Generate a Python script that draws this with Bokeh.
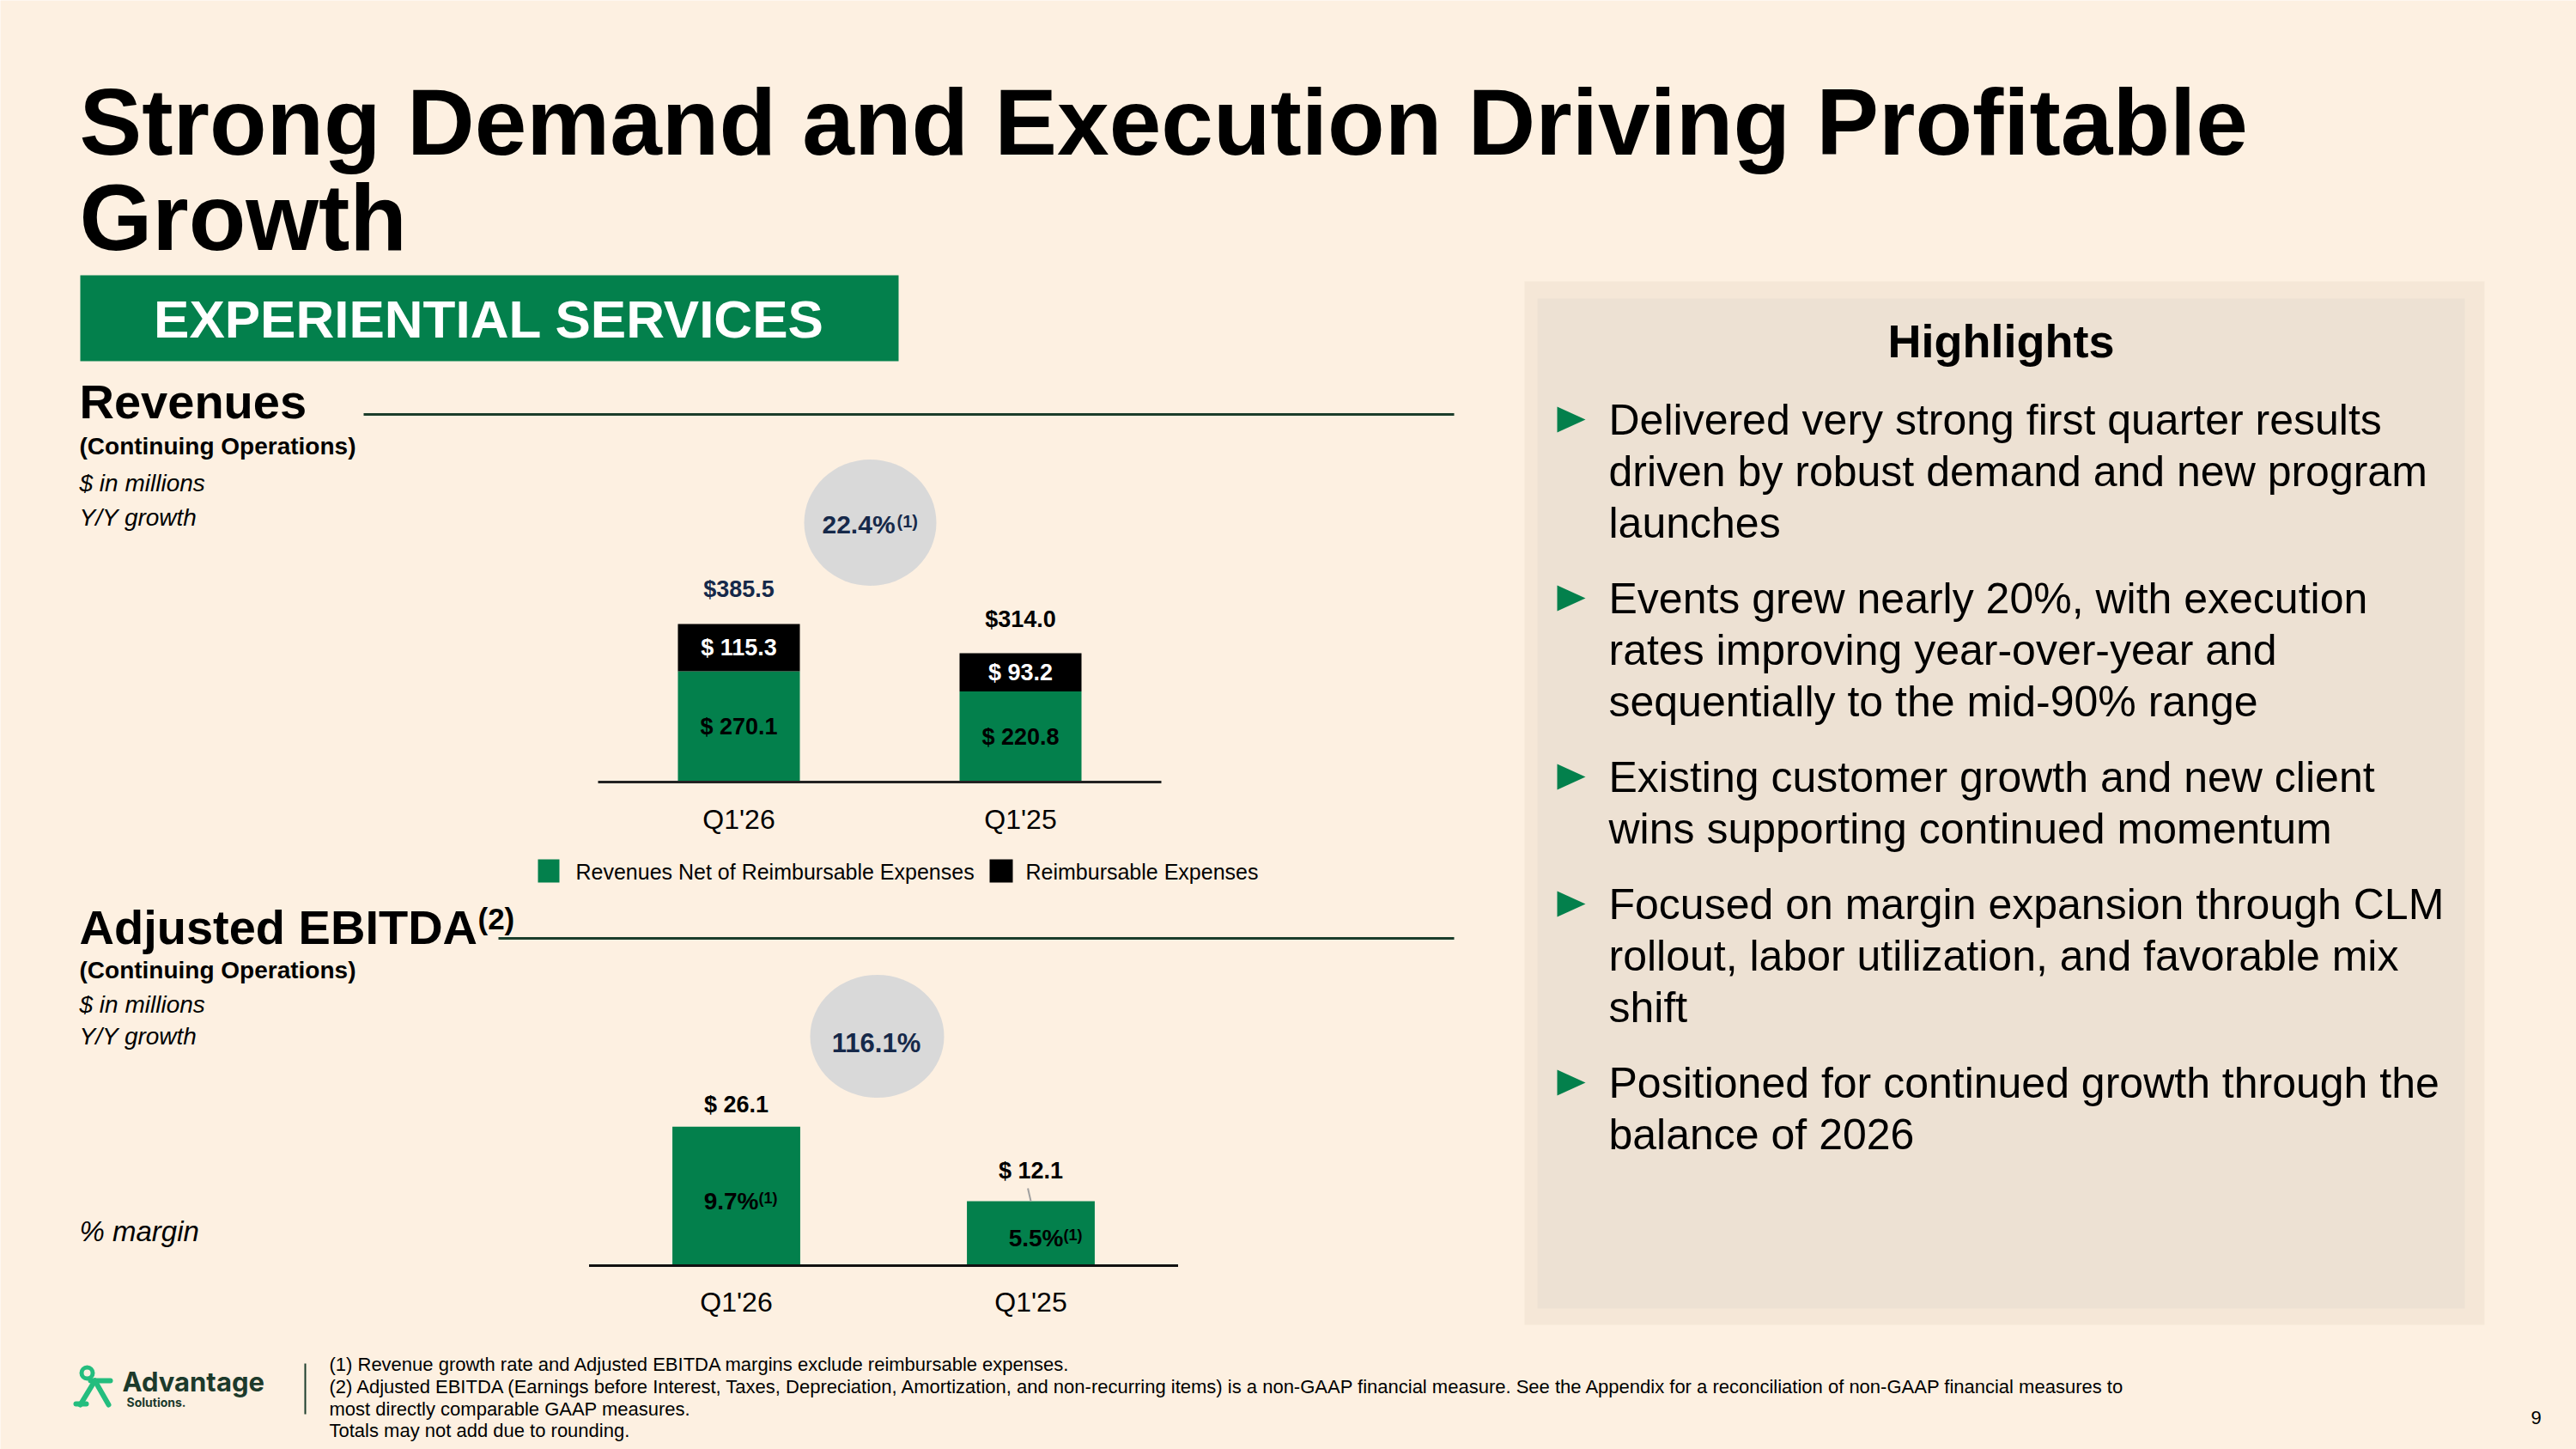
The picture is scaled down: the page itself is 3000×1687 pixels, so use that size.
from bokeh.plotting import figure
from bokeh.models import Range1d, ColumnDataSource
from bokeh.core.properties import value
from bokeh.embed import file_html
from bokeh.resources import INLINE

# ---------------- data ----------------
quarters = ["Q1'26", "Q1'25"]
rev_net = [270.1, 220.8]          # revenues net of reimbursable expenses
rev_reimb = [115.3, 93.2]         # reimbursable expenses
rev_total = [385.5, 314.0]        # reported totals
rev_growth = "22.4%"
ebitda = [26.1, 12.1]
ebitda_margin = ["9.7%", "5.5%"]
ebitda_growth = "116.1%"
legend_labels = ["Revenues Net of Reimbursable Expenses", "Reimbursable Expenses"]

highlights = [
    ["Delivered very strong first quarter results",
     "driven by robust demand and new program",
     "launches"],
    ["Events grew nearly 20%, with execution",
     "rates improving year-over-year and",
     "sequentially to the mid-90% range"],
    ["Existing customer growth and new client",
     "wins supporting continued momentum"],
    ["Focused on margin expansion through CLM",
     "rollout, labor utilization, and favorable mix",
     "shift"],
    ["Positioned for continued growth through the",
     "balance of 2026"],
]

footnotes = [
    "(1) Revenue growth rate and Adjusted EBITDA margins exclude reimbursable expenses.",
    "(2) Adjusted EBITDA (Earnings before Interest, Taxes, Depreciation, Amortization, and non-recurring items) "
    "is a non-GAAP financial measure. See the Appendix for a reconciliation of non-GAAP financial measures to",
    "most directly comparable GAAP measures.",
    "Totals may not add due to rounding.",
]

# ---------------- style ----------------
W, H = 3000, 1687
FONT = "Liberation Sans"
BG = "#fdf0e1"
GREEN = "#03804c"
NAVY = "#16294a"
RULE = "#1b3d2b"
PANEL_OUT = "#f5e7d7"
PANEL_IN = "#ede1d3"
BADGE = "#d9d9d9"
MINT = "#24bd7e"

p = figure(width=W, height=H, x_range=Range1d(0, W), y_range=Range1d(H, 0),
           output_backend="svg", toolbar_location=None,
           x_axis_location=None, y_axis_location=None,
           min_border=0, background_fill_color=BG, border_fill_color=BG,
           outline_line_color=None)
for g in p.grid:
    g.visible = False


def txt(x, y, s, size, color="#000000", style="normal", align="left",
        baseline="middle", font=FONT, **kw):
    xs = x if isinstance(x, list) else [x]
    ys = y if isinstance(y, list) else [y]
    ss = s if isinstance(s, list) else [s]
    return p.text(x=xs, y=ys, text=ss, text_font=value(font),
                  text_font_size=f"{size}px", text_font_style=style,
                  text_color=color, text_align=align, text_baseline=baseline, **kw)


# chart scales: category index -> horizontal position, value -> vertical position
def chart_ranges(first_px, step_px, base_px, px_per_unit):
    xr = Range1d(-first_px / step_px, (W - first_px) / step_px)
    yr = Range1d(-(H - base_px) / px_per_unit, base_px / px_per_unit)
    return xr, yr


REV_K = 0.4775
EB_K = 6.2
rev_xr, rev_yr = chart_ranges(860, 328, 910, REV_K)
eb_xr, eb_yr = chart_ranges(857, 343, 1473, EB_K)
p.extra_x_ranges = {"rev_x": rev_xr, "eb_x": eb_xr}
p.extra_y_ranges = {"rev_y": rev_yr, "eb_y": eb_yr}
REV = dict(x_range_name="rev_x", y_range_name="rev_y")
EB = dict(x_range_name="eb_x", y_range_name="eb_y")

# ---------------- title & section header ----------------
txt(92, 141, "Strong Demand and Execution Driving Profitable", 109, style="bold")
txt(92, 252, "Growth", 109, style="bold")

p.quad(left=[93], right=[1046], top=[320], bottom=[420], color=GREEN, line_color=None)
txt(569, 371, "EXPERIENTIAL SERVICES", 62, color="white", style="bold", align="center")

# ---------------- revenues ----------------
txt(92, 467, "Revenues", 56, style="bold")
p.segment(x0=[423], y0=[482], x1=[1693], y1=[482], line_color=RULE, line_width=3)
txt(92, 519, "(Continuing Operations)", 28, style="bold")
txt(92, 562, "$ in millions", 28, style="italic")
txt(92, 602, "Y/Y growth", 28, style="italic")

idx = list(range(len(quarters)))
rev_src = ColumnDataSource(dict(
    x=idx, net=rev_net, reimb=rev_reimb,
    stack_top=[n + r for n, r in zip(rev_net, rev_reimb)],
    total=rev_total,
    net_mid=[n / 2 for n in rev_net],
    reimb_mid=[n + r / 2 for n, r in zip(rev_net, rev_reimb)],
    total_y=[t + 40 / REV_K for t in rev_total],
    cat_y=[-43 / REV_K] * len(idx),
    net_lbl=[f"$ {v:.1f}" for v in rev_net],
    reimb_lbl=[f"$ {v:.1f}" for v in rev_reimb],
    total_lbl=[f"${v:.1f}" for v in rev_total],
    total_col=[NAVY, "#000000"],
    cat=quarters,
))
BAR_W = 0.433
p.vbar(x="x", bottom=0, top="net", width=BAR_W, color=GREEN, line_color=None,
       source=rev_src, **REV)
p.vbar(x="x", bottom="net", top="stack_top", width=BAR_W, color="#000000",
       line_color=None, source=rev_src, **REV)
p.segment(x0=[-0.5], y0=[0], x1=[1.5], y1=[0], line_color="#222222", line_width=3, **REV)

lbl = dict(text_font=value(FONT), text_font_size="27px", text_font_style="bold",
           text_align="center", text_baseline="middle", source=rev_src, **REV)
p.text(x="x", y="total_y", text="total_lbl", text_color="total_col", **lbl)
p.text(x="x", y="reimb_mid", text="reimb_lbl", text_color="white", **lbl)
p.text(x="x", y="net_mid", text="net_lbl", text_color="#000000", **lbl)
p.text(x="x", y="cat_y", text="cat", text_font=value(FONT), text_font_size="32px",
       text_align="center", text_baseline="middle", text_color="#000000",
       source=rev_src, **REV)

# growth badge
p.ellipse(x=[1013], y=[608], width=[154], height=[147], width_units="screen",
          height_units="screen", fill_color=BADGE, line_color=None)
txt(957, 610, rev_growth, 30, color=NAVY, style="bold")
txt(1044, 606, "(1)", 20, color=NAVY, style="bold")

# legend
p.quad(left=[626], right=[651], top=[1000], bottom=[1027], color=GREEN, line_color=None)
txt(670, 1014, legend_labels[0], 25)
p.quad(left=[1152], right=[1179], top=[1000], bottom=[1027], color="#000000", line_color=None)
txt(1194, 1014, legend_labels[1], 25)

# ---------------- adjusted EBITDA ----------------
txt(92, 1079, "Adjusted EBITDA", 56, style="bold")
txt(556, 1069, "(2)", 35, style="bold")
p.segment(x0=[580], y0=[1092], x1=[1693], y1=[1092], line_color=RULE, line_width=3)
txt(92, 1129, "(Continuing Operations)", 28, style="bold")
txt(92, 1169, "$ in millions", 28, style="italic")
txt(92, 1206, "Y/Y growth", 28, style="italic")
txt(92, 1433, "% margin", 33, style="italic")

label_gap = [26, 35]
eb_src = ColumnDataSource(dict(
    x=idx, v=ebitda,
    top_y=[v + g / EB_K for v, g in zip(ebitda, label_gap)],
    top_lbl=[f"$ {v:.1f}" for v in ebitda],
    m_y=[v / 2 - 6 / EB_K for v in ebitda],
    sup_y=[v / 2 - 2.5 / EB_K for v in ebitda],
    m_lbl=ebitda_margin,
    m_dx=[26, 38],
    cat_y=[-42 / EB_K] * len(idx),
    cat=quarters,
))
p.vbar(x="x", bottom=0, top="v", width=0.434, color=GREEN, line_color=None,
       source=eb_src, **EB)
p.segment(x0=[-0.5], y0=[0], x1=[1.5], y1=[0], line_color="#111111", line_width=3, **EB)
p.text(x="x", y="top_y", text="top_lbl", text_font=value(FONT), text_font_size="27px",
       text_font_style="bold", text_align="center", text_baseline="middle",
       text_color="#000000", source=eb_src, **EB)
# leader from the smaller bar's label down to its bar
p.segment(x0=[0.99], y0=[ebitda[1] + 15 / EB_K], x1=[1.0], y1=[ebitda[1]],
          line_color="#a0a0a0", line_width=2, **EB)
p.text(x="x", y="m_y", text="m_lbl", x_offset="m_dx", text_font=value(FONT),
       text_font_size="28px", text_font_style="bold", text_align="right",
       text_baseline="middle", text_color="#000000", source=eb_src, **EB)
p.text(x="x", y="sup_y", text=value("(1)"), x_offset="m_dx", text_font=value(FONT),
       text_font_size="18px", text_font_style="bold", text_align="left",
       text_baseline="middle", text_color="#000000", source=eb_src, **EB)
p.text(x="x", y="cat_y", text="cat", text_font=value(FONT), text_font_size="32px",
       text_align="center", text_baseline="middle", text_color="#000000",
       source=eb_src, **EB)

p.ellipse(x=[1021], y=[1206], width=[156], height=[143], width_units="screen",
          height_units="screen", fill_color=BADGE, line_color=None)
txt(1020, 1214, ebitda_growth, 31, color=NAVY, style="bold", align="center")

# ---------------- highlights panel ----------------
p.quad(left=[1775], right=[2893], top=[327], bottom=[1542], color=PANEL_OUT, line_color=None)
p.quad(left=[1790], right=[2870], top=[347], bottom=[1523], color=PANEL_IN, line_color=None)
txt(2330, 396, "Highlights", 54, style="bold", align="center")

LINE_STEP, GROUP_GAP = 60, 88
y = 488
tri_xs, tri_ys = [], []
for group in highlights:
    tri_xs.append([1813, 1813, 1846])
    tri_ys.append([y - 15, y + 15, y])
    for i, line in enumerate(group):
        txt(1873, y, line, 50, color="#000000")
        if i < len(group) - 1:
            y += LINE_STEP
    y += GROUP_GAP
p.patches(xs=tri_xs, ys=tri_ys, color=GREEN, line_color=None)

# ---------------- footer ----------------
# logo mark
p.annulus(x=[101], y=[1598], inner_radius=4, outer_radius=9, color=MINT, line_color=None)
p.multi_line(xs=[[105, 128], [110, 93], [110, 126], [88, 100]],
             ys=[[1607, 1607], [1607, 1635], [1607, 1635], [1634, 1634]],
             line_color=MINT, line_width=6, line_cap="round")
txt(142, 1608, "Advantage", 31, color="#1c3a2b", style="bold", font="Inter")
txt(147, 1632, "Solutions.", 14, color="#1c3a2b", style="bold", font="Inter")
p.segment(x0=[355], y0=[1587], x1=[355], y1=[1646], line_color=RULE, line_width=2)

for i, note in enumerate(footnotes):
    txt(383, [1588, 1614, 1640, 1665][i], note, 22)
txt(2953, 1650, "9", 22, align="center")

open("out.html", "w").write(file_html(p, INLINE))
